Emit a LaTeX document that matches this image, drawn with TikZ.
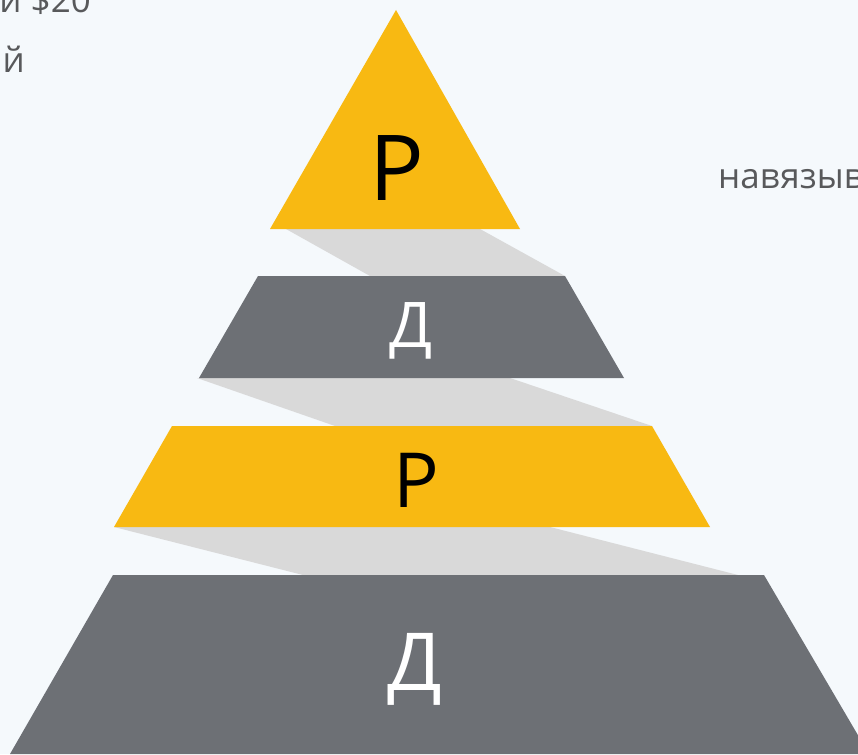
\documentclass[tikz,border=0pt]{standalone}
\usepackage{fontspec}
\setmainfont{Open Sans}
\usepackage{tikz}
\definecolor{bgblue}{HTML}{F5F9FC}
\definecolor{pyryellow}{HTML}{F8B912}
\definecolor{pyrgrey}{HTML}{6D7075}
\definecolor{shadowgrey}{HTML}{D9D9D9}
\definecolor{textgrey}{HTML}{58595B}

\begin{document}
\begin{tikzpicture}[x=1pt,y=-1pt,
    letter/.style={anchor=base,inner sep=0pt},
    side/.style={inner sep=0pt,text=textgrey,font=\fontsize{35}{44}\selectfont}]
      \useasboundingbox (0,0) rectangle (858,754);
      \clip (0,0) rectangle (858,754);
      \fill[bgblue] (0,0) rectangle (858,754);
      % shadows between the layers
      \fill[shadowgrey] (286,229) -- (480,229) -- (565,276) -- (370,276) -- cycle;
      \fill[shadowgrey] (197,378) -- (510,378) -- (652,426) -- (335,426) -- cycle;
      \fill[shadowgrey] (114,527) -- (550,527) -- (738,575) -- (303,575) -- cycle;
      % layers
      \fill[pyryellow] (396,10) -- (520,229) -- (270,229) -- cycle;
      \fill[pyrgrey] (258,276) -- (565,276) -- (624,378) -- (199,378) -- cycle;
      \fill[pyryellow] (172,426) -- (652,426) -- (710,527) -- (114,527) -- cycle;
      \fill[pyrgrey] (113,575) -- (764,575) -- (869,754) -- (10,754) -- cycle;
      % letters
      \node[letter,font=\fontsize{91}{91}\selectfont] (topR) at (397,200) {Р};
      \node[letter,text=white,font=\fontsize{63}{63}\selectfont] (secD) at (411,347) {Д};
      \node[letter,font=\fontsize{76}{76}\selectfont] (thirdR) at (416,507) {Р};
      \node[letter,text=white,font=\fontsize{80}{80}\selectfont] (baseD) at (415,690) {Д};
      % cut text at the sides
      \node[side,anchor=base east] (leftA) at (91,13) {и \$20};
      \node[side,anchor=base east] (leftB) at (25,73) {й};
      \node[side,anchor=base west] (rightA) at (718,188) {навязыв};
\end{tikzpicture}
\end{document}
